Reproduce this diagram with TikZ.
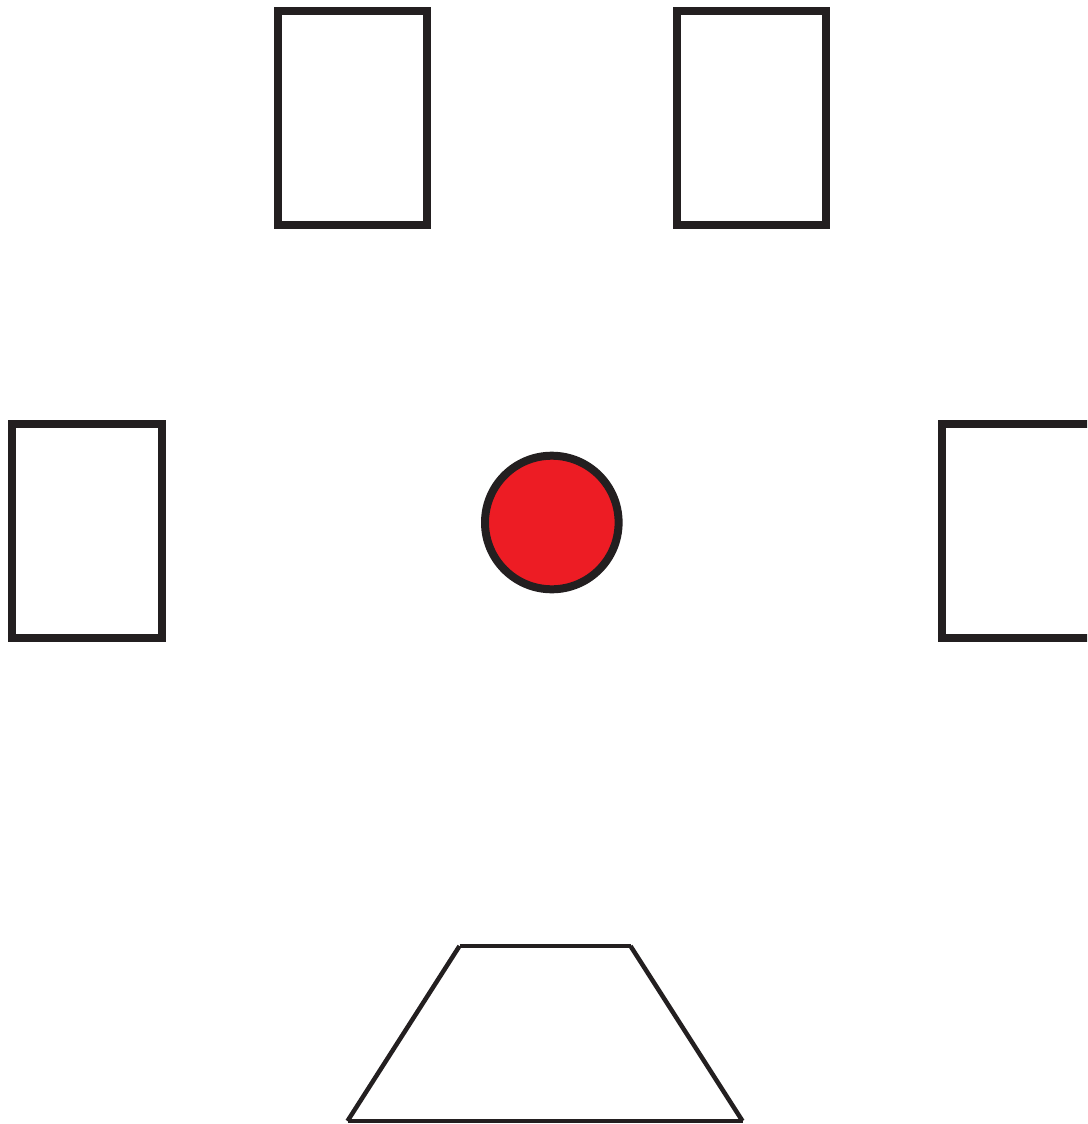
\documentclass[tikz,border=0pt]{standalone}
\definecolor{ink}{HTML}{231F20}
\definecolor{dotred}{HTML}{ED1C24}
\begin{document}
\begin{tikzpicture}[x=1pt,y=-1pt,
  seat/.style={draw=ink,line width=8pt},
  desk/.style={draw=ink,line width=4.5pt,line cap=butt}]
\useasboundingbox (0,0) rectangle (1087,1124);
\clip (0,0) rectangle (1087,1124);
% top rectangles
\draw[seat] (277.5,10.8) rectangle (427.4,224.8);
\draw[seat] (676.5,10.8) rectangle (825.5,224.8);
% side rectangles
\draw[seat] (11.8,424.2) rectangle (161.6,638.2);
\draw[seat] (941.7,424.2) rectangle (1100,638.2);
% red circle
\draw[seat,fill=dotred] (551.8,522.5) circle (66.8);
% trapezoid (separate segments)
\coordinate (tl) at (459.5,946);
\coordinate (tr) at (630.5,946);
\coordinate (bl) at (347.5,1121);
\coordinate (br) at (742.5,1121);
\draw[desk] (tl) -- (tr);
\draw[desk] (tl) -- (bl);
\draw[desk] (tr) -- (br);
\draw[desk] (bl) -- (br);
\end{tikzpicture}
\end{document}
